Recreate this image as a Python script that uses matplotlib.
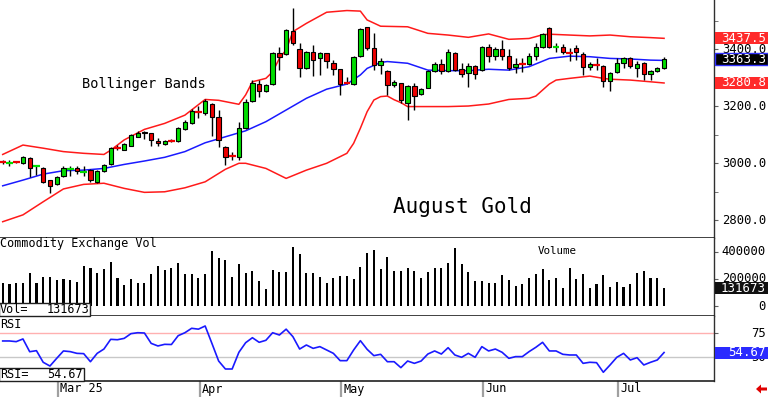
import matplotlib
matplotlib.use("Agg")
import matplotlib.pyplot as plt
from matplotlib.patches import Rectangle, Polygon
from matplotlib.transforms import blended_transform_factory as blend

# ---------------- data ----------------
opens = [3005, 3000, 3005, 3001, 3019, 2987, 2983, 2940, 2925, 2956,
         2977, 2981, 2969, 2975, 2934, 2973, 2995, 3052, 3047, 3061,
         3092, 3108, 3104, 3078, 3066, 3079, 3077, 3119, 3142, 3181,
         3174, 3207, 3163, 3057, 3026, 3022, 3122, 3219, 3277, 3253,
         3276, 3387, 3383, 3464, 3399, 3332, 3391, 3367, 3385, 3350,
         3329, 3281, 3277, 3375, 3476, 3402, 3344, 3324, 3274, 3280,
         3210, 3271, 3242, 3264, 3323, 3346, 3323, 3385, 3330, 3315,
         3341, 3326, 3406, 3376, 3399, 3376, 3338, 3347, 3346, 3376,
         3406, 3475, 3405, 3408, 3388, 3402, 3381, 3338, 3345, 3341,
         3288, 3318, 3350, 3370, 3334, 3350, 3311, 3323, 3334]
highs = [3012, 3012, 3008, 3025, 3021, 2993, 2985, 2942, 2955, 2990,
         2990, 2990, 2990, 2978, 2976, 2998, 3057, 3062, 3070, 3102,
         3113, 3112, 3106, 3086, 3081, 3083, 3128, 3150, 3190, 3200,
         3223, 3210, 3186, 3060, 3040, 3145, 3226, 3290, 3290, 3276,
         3390, 3408, 3470, 3543, 3422, 3393, 3414, 3390, 3387, 3362,
         3331, 3303, 3374, 3473, 3479, 3455, 3367, 3326, 3292, 3282,
         3274, 3280, 3263, 3326, 3355, 3366, 3400, 3388, 3350, 3350,
         3344, 3410, 3417, 3406, 3432, 3399, 3369, 3369, 3385, 3420,
         3455, 3478, 3420, 3416, 3404, 3414, 3388, 3355, 3367, 3344,
         3320, 3370, 3373, 3373, 3358, 3355, 3326, 3338, 3373]
lows = [2997, 2990, 2999, 2995, 2952, 2958, 2930, 2896, 2922, 2952,
        2955, 2962, 2955, 2934, 2930, 2970, 2993, 3045, 3044, 3058,
        3090, 3085, 3058, 3060, 3064, 3073, 3075, 3116, 3138, 3157,
        3168, 3094, 3057, 2993, 3010, 3012, 3118, 3215, 3233, 3250,
        3272, 3326, 3380, 3414, 3301, 3330, 3305, 3309, 3332, 3310,
        3238, 3277, 3274, 3372, 3398, 3326, 3312, 3239, 3266, 3209,
        3151, 3186, 3239, 3262, 3318, 3314, 3320, 3323, 3303, 3268,
        3294, 3323, 3356, 3362, 3362, 3326, 3315, 3320, 3343, 3361,
        3403, 3402, 3389, 3381, 3358, 3361, 3309, 3326, 3326, 3268,
        3253, 3315, 3334, 3334, 3303, 3291, 3291, 3320, 3331]
closes = [3004, 3001, 3004, 3020, 2981, 2988, 2935, 2919, 2952, 2984,
          2978, 2973, 2970, 2940, 2973, 2993, 3051, 3051, 3066, 3098,
          3106, 3104, 3080, 3069, 3077, 3078, 3124, 3145, 3183, 3180,
          3217, 3163, 3081, 3022, 3025, 3122, 3215, 3279, 3254, 3273,
          3387, 3371, 3467, 3422, 3332, 3391, 3361, 3387, 3358, 3330,
          3277, 3280, 3371, 3470, 3402, 3344, 3358, 3274, 3283, 3221,
          3271, 3236, 3260, 3323, 3346, 3323, 3388, 3326, 3312, 3341,
          3312, 3407, 3376, 3399, 3376, 3332, 3346, 3346, 3376, 3406,
          3451, 3408, 3406, 3388, 3387, 3388, 3338, 3347, 3344, 3288,
          3317, 3350, 3370, 3340, 3346, 3311, 3323, 3334, 3363.3]
volume = [168000, 165000, 168000, 168000, 247000, 168000, 212000, 217000, 192000, 197000,
          192000, 180000, 296000, 284000, 247000, 272000, 328000, 210000, 156000, 200000,
          168000, 168000, 235000, 296000, 266000, 284000, 316000, 237000, 235000, 205000,
          237000, 407000, 358000, 341000, 212000, 309000, 247000, 259000, 188000, 126000,
          266000, 249000, 249000, 440000, 385000, 247000, 247000, 217000, 168000, 210000,
          225000, 222000, 197000, 291000, 395000, 412000, 272000, 365000, 259000, 259000,
          279000, 262000, 205000, 249000, 279000, 279000, 316000, 432000, 311000, 254000,
          185000, 185000, 173000, 168000, 230000, 192000, 148000, 160000, 205000, 235000,
          272000, 192000, 210000, 131000, 284000, 200000, 235000, 136000, 160000, 230000,
          143000, 180000, 143000, 160000, 242000, 262000, 205000, 205000, 131673]
rsi = [66.7, 66.7, 66.0, 68.8, 55.5, 56.6, 44.5, 40.6, 48.6, 56.3,
       55.6, 53.8, 53.5, 45.1, 53.8, 58.3, 68.4, 68.0, 69.4, 74.3,
       75.3, 75.0, 64.2, 61.5, 63.2, 63.0, 72.2, 75.3, 79.9, 79.0,
       82.3, 64.2, 45.8, 37.5, 37.5, 54.9, 64.9, 70.1, 65.3, 67.4,
       75.3, 72.9, 79.0, 71.2, 58.3, 62.5, 59.0, 60.8, 57.3, 53.8,
       46.2, 46.2, 57.3, 67.0, 58.0, 51.4, 52.8, 45.1, 45.1, 38.9,
       45.8, 43.4, 45.8, 53.1, 56.3, 53.1, 59.7, 52.1, 49.7, 53.8,
       49.7, 60.8, 56.3, 58.3, 54.9, 48.6, 50.4, 50.4, 55.6, 60.1,
       65.3, 56.3, 56.3, 52.8, 52.1, 52.1, 43.4, 44.5, 44.1, 34.1,
       41.7, 49.7, 53.8, 46.9, 49.3, 41.7, 44.5, 46.9, 54.67]

upper_idx = [0, 3, 6, 9, 12, 15, 16, 18, 21, 24, 27, 30, 32, 35, 36, 37, 39, 40, 41, 42,
             43, 45, 48, 51, 53, 54, 56, 60, 63, 66, 69, 72, 75, 78, 80, 81, 84, 87, 90, 93, 96, 98]
upper = [3030, 3063, 3052, 3040, 3034, 3030, 3045, 3081, 3118, 3139, 3168, 3223, 3220, 3206,
         3239, 3285, 3297, 3320, 3367, 3397, 3461, 3490, 3529, 3535, 3533, 3502, 3480, 3478,
         3455, 3449, 3441, 3453, 3434, 3437, 3450, 3452, 3449, 3446, 3449, 3443, 3440, 3437.5]
mid_idx = [0, 3, 6, 9, 12, 15, 18, 21, 24, 27, 30, 33, 36, 39, 42, 45, 48, 51, 53, 54, 56,
           57, 60, 63, 66, 69, 72, 75, 78, 81, 84, 87, 90, 93, 96, 98]
middle = [2920, 2940, 2961, 2973, 2975, 2981, 2995, 3007, 3020, 3040, 3071, 3092, 3113, 3145,
          3186, 3227, 3259, 3277, 3309, 3332, 3353, 3356, 3350, 3326, 3324, 3324, 3329, 3326,
          3338, 3367, 3375, 3373, 3367, 3365, 3361, 3360]
lower_idx = [0, 3, 6, 9, 12, 15, 18, 21, 24, 27, 30, 33, 35, 36, 39, 42, 45, 48, 51, 52, 53,
             54, 55, 56, 57, 58, 59, 60, 63, 66, 69, 72, 75, 78, 79, 80, 81, 82, 84, 87, 89,
             90, 93, 96, 98]
lower = [2794, 2818, 2864, 2909, 2925, 2929, 2911, 2897, 2899, 2913, 2934, 2978, 2999, 2999,
         2981, 2946, 2975, 2999, 3034, 3069, 3122, 3180, 3221, 3233, 3235, 3222, 3212, 3198,
         3198, 3198, 3200, 3207, 3223, 3227, 3235, 3256, 3277, 3291, 3297, 3305, 3297, 3294,
         3291, 3285, 3280.8]

month_idx = [8, 29, 50, 71, 91]
month_labels = ["Mar 25", "Apr", "May", "Jun", "Jul"]
price_ticks = [2800, 3000, 3200, 3400]
price_minor = [2900, 3100, 3300, 3500]
vol_ticks = [0, 200000, 400000]
rsi_ticks = [50, 75]

# ---------------- layout ----------------
W, H = 768, 397
fig = plt.figure(figsize=(W / 100, H / 100), dpi=100)
fig.patch.set_facecolor("white")
MONO = "DejaVu Sans Mono"


def rect(x0, y0, x1, y1):
    return [x0 / W, 1 - y1 / H, (x1 - x0) / W, (y1 - y0) / H]


ax_p = fig.add_axes(rect(0, 0, 714, 237.5))
ax_v = fig.add_axes(rect(0, 237.5, 714, 316))
ax_r = fig.add_axes(rect(0, 316, 714, 381))

XL = (-0.4, 105.4)
ax_p.set_ylim(2738.6, 3572)
ax_v.set_ylim(-74074, 507407)
ax_r.set_ylim(25, 92.71)

for ax in (ax_p, ax_v, ax_r):
    ax.set_xlim(*XL)
    ax.set_facecolor("white")
    ax.spines["left"].set_visible(False)
    ax.spines["top"].set_visible(False)
    ax.spines["right"].set_color("#303030")
    ax.spines["bottom"].set_color("#202020")
    ax.spines["right"].set_linewidth(1.0)
    ax.spines["bottom"].set_linewidth(1.2)
    ax.set_xticks([])
    ax.yaxis.tick_right()
    ax.tick_params(axis="y", which="both", direction="out", length=3,
                   color="#606060", labelright=False, labelleft=False)

ax_p.set_yticks(price_ticks)
ax_p.set_yticks(price_minor, minor=True)
ax_v.set_yticks(vol_ticks)
ax_r.set_yticks(rsi_ticks)

GREEN = "#00dd00"
RED = "#ee0000"

# ---------------- candles ----------------
for i in range(len(closes)):
    o, h, l, c = opens[i], highs[i], lows[i], closes[i]
    ax_p.vlines(i, l, h, color="black", lw=1.0, zorder=3)
    up = c >= o
    if abs(c - o) < 2.5:
        ax_p.hlines(c, i - 0.5, i + 0.5, color=GREEN if up else RED, lw=1.6, zorder=4)
    else:
        ax_p.add_patch(Rectangle((i - 0.32, min(o, c)), 0.64, abs(c - o),
                                 facecolor=GREEN if up else RED, edgecolor="black",
                                 lw=0.8, zorder=4))

ax_p.plot(upper_idx, upper, color="#ff1a1a", lw=1.1, zorder=2)
ax_p.plot(lower_idx, lower, color="#ff1a1a", lw=1.1, zorder=2)
ax_p.plot(mid_idx, middle, color="#1a1aff", lw=1.1, zorder=2)

ax_p.text(82 / 714, 1 - 84 / 237.5, "Bollinger Bands", transform=ax_p.transAxes,
          family=MONO, fontsize=9.8, ha="left", va="center", color="black")
ax_p.text(393 / 714, 1 - 207 / 237.5, "August Gold", transform=ax_p.transAxes,
          family=MONO, fontsize=15, ha="left", va="center", color="black")

# ---------------- volume ----------------
ax_v.bar(range(len(volume)), volume, width=0.32, color="black", zorder=2)
fig.text(0 / W, 1 - 244 / H, "Commodity Exchange Vol", family=MONO, fontsize=8.5,
         ha="left", va="center")
fig.text(538 / W, 1 - 251 / H, "Volume", family=MONO, fontsize=7.8, ha="left", va="center")

# ---------------- RSI ----------------
ax_r.axhline(75, color="#ffb0b0", lw=1.0, zorder=1)
ax_r.axhline(50, color="#c8c8c8", lw=1.0, zorder=1)
ax_r.plot(range(len(rsi)), rsi, color="#1a1aff", lw=1.2, zorder=3)
fig.text(0 / W, 1 - 325 / H, "RSI", family=MONO, fontsize=8.5, ha="left", va="center")

# bottom-left value boxes
for (x1, y0, y1, lab, val) in [(90, 303, 316, "Vol=", f"{volume[-1]:d}"),
                               (84, 368, 381, "RSI=", f"{rsi[-1]:.2f}")]:
    fig.add_artist(Rectangle((-1 / W, 1 - y1 / H), (x1 + 1) / W, (y1 - y0) / H,
                             transform=fig.transFigure, facecolor="white",
                             edgecolor="#202020", lw=1.0, zorder=10))
    fig.text(0, 1 - (y0 + y1) / 2 / H, lab, family=MONO, fontsize=8.5,
             ha="left", va="center", zorder=11)
    fig.text((x1 - 1) / W, 1 - (y0 + y1) / 2 / H, val, family=MONO, fontsize=8.5,
             ha="right", va="center", zorder=11)

# ---------------- right axis labels ----------------
def ax_height_px(ax):
    return ax.get_position().height * H


def right_label(ax, val, txt):
    tr = blend(fig.transFigure, ax.transData)
    fig.text(766 / W, val, txt, transform=tr, family=MONO, fontsize=8.8,
             ha="right", va="center", color="black", zorder=5)


def value_box(ax, val, txt, fc, ec="none"):
    tr = blend(fig.transFigure, ax.transData)
    y0, y1 = ax.get_ylim()
    h = 12 * (y1 - y0) / ax_height_px(ax)
    fig.add_artist(Rectangle((715 / W, val - h / 2), 53 / W, h, transform=tr,
                             facecolor=fc, edgecolor=ec, lw=1.0, zorder=8))
    fig.text(766 / W, val, txt, transform=tr, family=MONO, fontsize=8.9,
             ha="right", va="center", color="white", zorder=9)


for t in price_ticks:
    right_label(ax_p, t, f"{t:.1f}")
for t in vol_ticks:
    right_label(ax_v, t, f"{t:d}")
for t in rsi_ticks:
    right_label(ax_r, t, f"{t:d}")

value_box(ax_p, upper[-1], f"{upper[-1]:.1f}", "#ff2a2a")
value_box(ax_p, lower[-1], f"{lower[-1]:.1f}", "#ff2a2a")
value_box(ax_p, closes[-1], f"{closes[-1]:.1f}", "#000000", ec="#3030ff")
value_box(ax_v, volume[-1], f"{volume[-1]:d}", "#101010")
value_box(ax_r, rsi[-1], f"{rsi[-1]:.2f}", "#2a2aff")

# ---------------- date axis ----------------
trd = blend(ax_r.transData, fig.transFigure)
for idx, lab in zip(month_idx, month_labels):
    ax_r.plot([idx + 0.2, idx + 0.2], [1 - 382 / H, 1 - 396 / H], transform=trd,
              color="#a0a0a0", lw=1.6, clip_on=False)
    fig.text(idx + 0.5, 1 - 389 / H, lab, transform=trd,
             family=MONO, fontsize=8.5, ha="left", va="center")

# red arrow bottom right
arrow_px = [(756, 389), (761, 384.5), (761, 387.5), (767, 387.5),
            (767, 390.5), (761, 390.5), (761, 393.5)]
fig.add_artist(Polygon([(x / W, 1 - y / H) for x, y in arrow_px], closed=True,
                       transform=fig.transFigure, facecolor="#e00000", edgecolor="none"))

fig.savefig("out.png", dpi=100)
